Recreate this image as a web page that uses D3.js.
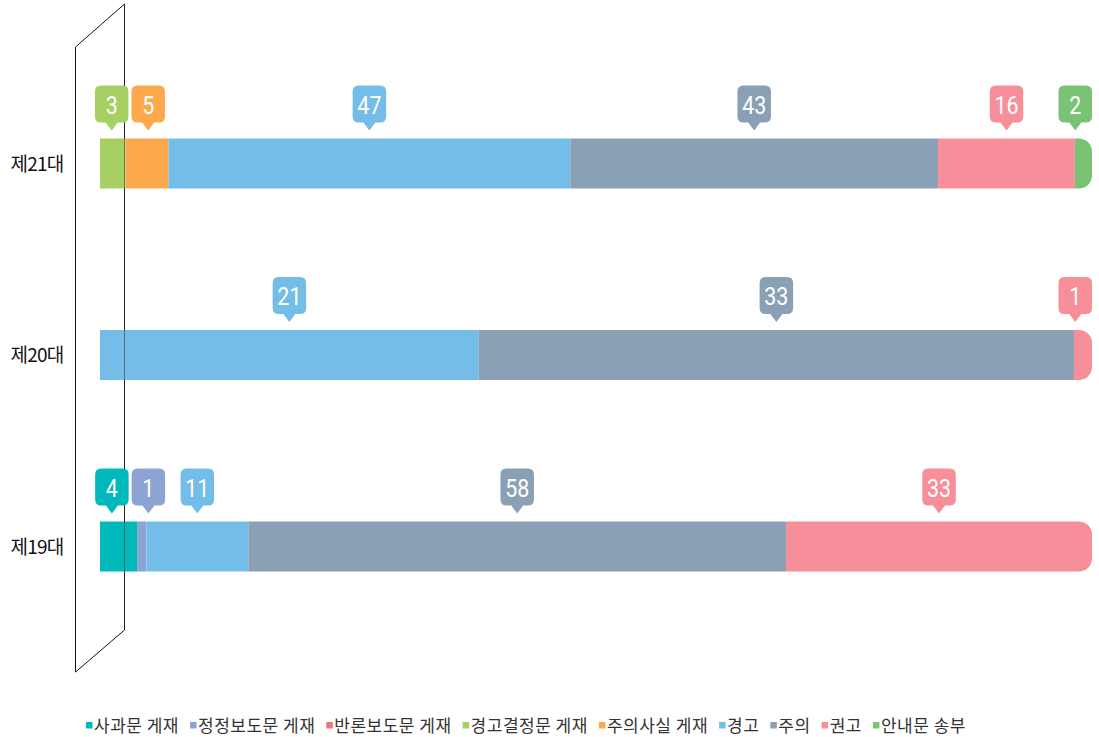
<!DOCTYPE html>
<html><head><meta charset="utf-8">
<script src="https://cdn.jsdelivr.net/npm/d3@7/dist/d3.min.js"></script>
<style>
html,body{margin:0;padding:0;background:#fff;}
svg{display:block;}
</style></head>
<body>
<svg id="chart" width="1099" height="737"></svg>
<script>
// ---- data ----
const rows = ['제21대', '제20대', '제19대'];
const seriesNames = ['사과문 게재', '정정보도문 게재', '반론보도문 게재', '경고결정문 게재', '주의사실 게재', '경고', '주의', '권고', '안내문 송부'];
const seriesColors = ['#00B9BA', '#8CA3D3', '#F0727F', '#A6CF64', '#FBA94A', '#74BDE8', '#8AA1B5', '#F68F9A', '#78C374'];
const apology      = [0, 0, 4];
const correction   = [0, 0, 1];
const rebuttal     = [0, 0, 0];
const warnDecision = [3, 0, 0];
const cautionFact  = [5, 0, 0];
const warning      = [47, 21, 11];
const caution      = [43, 33, 58];
const recommend    = [16, 1, 33];
const notice       = [2, 0, 0];
const seriesValues = [apology, correction, rebuttal, warnDecision, cautionFact, warning, caution, recommend, notice];

// table for d3.stack
const table = rows.map((r, i) => {
  const o = {row: r};
  seriesNames.forEach((s, k) => o[s] = seriesValues[k][i]);
  return o;
});

const svg = d3.select('#chart');
const x = d3.scaleLinear().domain([0, 1]).range([100, 1092]);
const y = d3.scalePoint().domain(rows).range([163.5, 546.5]);
const color = d3.scaleOrdinal().domain(seriesNames).range(seriesColors);
const barH = 50;

const stack = d3.stack().keys(seriesNames).offset(d3.stackOffsetExpand);
const layers = stack(table);

// parallelogram "axis plane"
svg.append('path')
  .attr('d', 'M75.5,47 L124.5,4 L124.5,630 L75.5,672 Z')
  .attr('fill', 'none').attr('stroke', '#111').attr('stroke-width', 1);

// row labels
svg.append('g').selectAll('text').data(rows).join('text')
  .attr('x', 37).attr('y', d => y(d) + 7)
  .attr('text-anchor', 'middle')
  .attr('font-family', '"Noto Sans CJK KR", sans-serif')
  .attr('font-size', 19).attr('letter-spacing', -0.8)
  .attr('fill', '#111')
  .text(d => d);

// last non-zero segment per row
const lastKey = {};
table.forEach(d => {
  let lk = null;
  seriesNames.forEach(s => { if (d[s] > 0) lk = s; });
  lastKey[d.row] = lk;
});

const r = 13;
function segPath(x0, x1, yTop, rounded) {
  const yb = yTop + barH;
  if (!rounded) return `M${x0},${yTop}H${x1}V${yb}H${x0}Z`;
  const rr = Math.min(r, (x1 - x0));
  return `M${x0},${yTop}H${x1 - rr}A${rr},${rr} 0 0 1 ${x1},${yTop + rr}V${yb - rr}A${rr},${rr} 0 0 1 ${x1 - rr},${yb}H${x0}Z`;
}

const gBars = svg.append('g');
layers.forEach(layer => {
  const key = layer.key;
  gBars.append('g').selectAll('path')
    .data(layer.filter(d => d.data[key] > 0))
    .join('path')
    .attr('d', d => segPath(x(d[0]), x(d[1]), y(d.data.row) - barH / 2, lastKey[d.data.row] === key))
    .attr('fill', color(key));
});

// right edge of plane drawn over bars
svg.append('line')
  .attr('x1', 124.5).attr('x2', 124.5).attr('y1', 4).attr('y2', 630)
  .attr('stroke', '#333').attr('stroke-opacity', 0.55).attr('stroke-width', 1);

// labels (bubbles)
const bw = 33.5, minD = 36.5, xMax = x(1);
const gLab = svg.append('g');
rows.forEach(row => {
  const labs = [];
  layers.forEach(layer => {
    const d = layer.find(e => e.data.row === row);
    const v = d.data[layer.key];
    if (v > 0) labs.push({key: layer.key, v, cx: (x(d[0]) + x(d[1])) / 2});
  });
  for (let it = 0; it < 20; it++) {
    for (let i = 1; i < labs.length; i++) {
      const gap = labs[i].cx - labs[i - 1].cx;
      if (gap < minD) {
        const s = (minD - gap) / 2;
        labs[i].cx += s; labs[i - 1].cx -= s;
      }
    }
    const last = labs[labs.length - 1];
    if (last.cx + bw / 2 > xMax) last.cx = xMax - bw / 2;
  }
  const top = y(row) - barH / 2;
  labs.forEach(l => {
    const x0 = l.cx - bw / 2, x1 = l.cx + bw / 2;
    const yt = top - 53, yb = top - 16, tip = top - 8, rc = 6, pw = 6;
    const p = `M${x0 + rc},${yt}H${x1 - rc}Q${x1},${yt} ${x1},${yt + rc}V${yb - rc}Q${x1},${yb} ${x1 - rc},${yb}` +
      `H${l.cx + pw}L${l.cx},${tip}L${l.cx - pw},${yb}H${x0 + rc}Q${x0},${yb} ${x0},${yb - rc}V${yt + rc}Q${x0},${yt} ${x0 + rc},${yt}Z`;
    gLab.append('path').attr('d', p).attr('fill', color(l.key));
    gLab.append('text')
      .attr('transform', `translate(${l.cx},${yb - 9}) scale(0.84,1)`)
      .attr('text-anchor', 'middle')
      .attr('font-family', 'Roboto, sans-serif')
      .attr('font-size', 25.5)
      .attr('fill', '#fff')
      .text(l.v);
  });
});

// legend
const gLeg = svg.append('g');
let lx = 86;
seriesNames.forEach((s, i) => {
  gLeg.append('rect').attr('x', lx).attr('y', 722).attr('width', 6.5).attr('height', 6.5).attr('fill', seriesColors[i]);
  const t = gLeg.append('text').attr('x', lx + 8).attr('y', 731.5)
    .attr('font-family', '"Noto Sans CJK KR", sans-serif')
    .attr('font-size', 17).attr('letter-spacing', 0.5).attr('fill', '#333').text(s);
  lx += 8 + t.node().getComputedTextLength() + 11;
});
</script>
</body></html>
